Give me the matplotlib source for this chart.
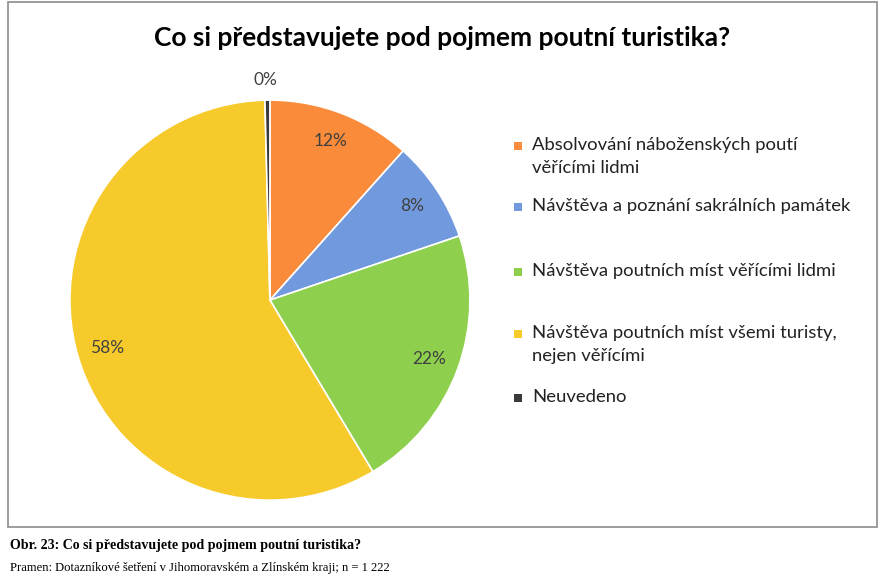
import matplotlib.pyplot as plt
from matplotlib.patches import Rectangle

# data (clockwise from 12 o'clock)
labels = ["Absolvování náboženských poutí\nvěřícími lidmi",
          "Návštěva a poznání sakrálních památek",
          "Návštěva poutních míst věřícími lidmi",
          "Návštěva poutních míst všemi turisty,\nnejen věřícími",
          "Neuvedeno"]
values = [11.6, 8.2, 21.6, 58.2, 0.4]
colors = ["#F98B3A", "#7199DD", "#8ED04E", "#F7CA2C", "#3A3A3A"]

title = "Co si představujete pod pojmem poutní turistika?"
caption = "Obr. 23: Co si představujete pod pojmem poutní turistika?"
source = "Pramen: Dotazníkové šetření v Jihomoravském a Zlínském kraji; n = 1 222"

fig = plt.figure(figsize=(8.85, 5.85), dpi=100)

# chart frame
fig.patches.append(Rectangle((8 / 885, 1 - 527 / 585), 869 / 885, 525 / 585,
                             transform=fig.transFigure, fill=False,
                             edgecolor="#8c8c8c", linewidth=1.2))

ax = fig.add_axes([0.079, 0.145, 0.452, 0.684])
wedges, texts, pcts = ax.pie(values, colors=colors, startangle=90, counterclock=False,
                             autopct=lambda p: "%.0f%%" % p, pctdistance=0.85,
                             wedgeprops=dict(edgecolor="white", linewidth=1.2),
                             textprops=dict(fontsize=12.5, color="#404040", family="Lato"))
# the tiny slice gets its label outside
pcts[-1].set_position((-0.02, 1.1))
ax.set_aspect("equal")
ax.set_xlim(-1, 1)
ax.set_ylim(-1, 1)

fig.text(0.5, 1 - 38 / 585, title, ha="center", va="center", fontsize=19,
         fontweight="bold", family="Lato", color="black")

# legend
leg_y = [146, 207, 272, 334, 398]
for lab, c, y in zip(labels, colors, leg_y):
    fig.patches.append(Rectangle((514 / 885, 1 - (y + 4) / 585), 8 / 885, 8 / 585,
                                 transform=fig.transFigure, facecolor=c, edgecolor="none"))
    fig.text(532 / 885, 1 - (y - 9) / 585, lab, ha="left", va="top", fontsize=13.3,
             family="Lato", color="#222222", linespacing=1.55)

fig.text(10 / 885, 1 - 545 / 585, caption, ha="left", va="center", fontsize=10.1,
         fontweight="bold", family="Liberation Serif")
fig.text(10 / 885, 1 - 568 / 585, source, ha="left", va="center", fontsize=9.1,
         family="Liberation Serif")

fig.savefig("out.png", dpi=100)
